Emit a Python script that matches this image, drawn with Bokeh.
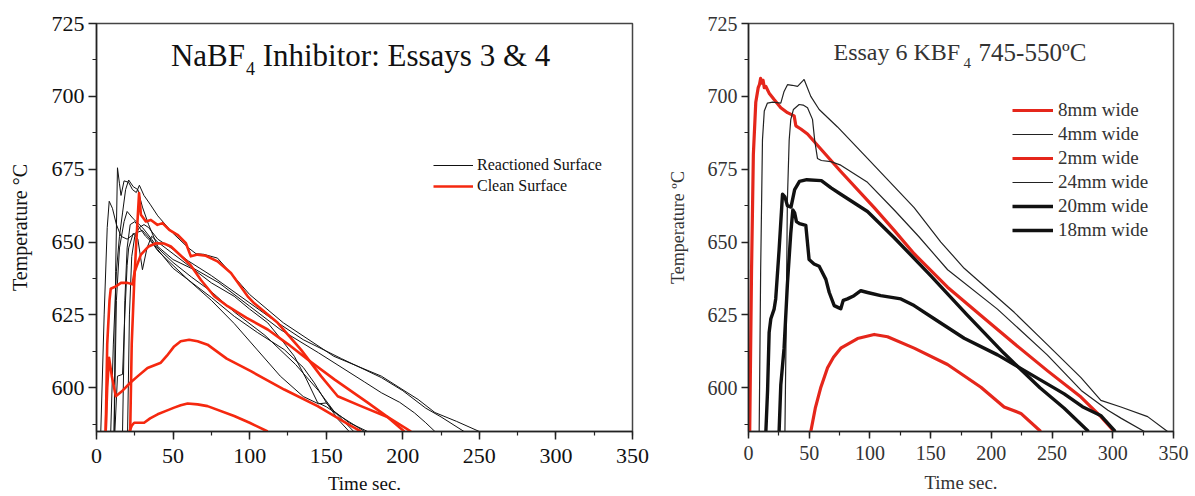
from bokeh.plotting import figure
from bokeh.layouts import row
from bokeh.models import Range1d, SingleIntervalTicker, Label, Legend, LegendItem
from bokeh.embed import file_html
from bokeh.resources import INLINE

# ---------------- LEFT PANEL DATA (NaBF4, Essays 3 & 4) ----------------
# Reactioned surface (black, thin)
k1_x = [11.5, 12.5, 13.7, 15, 16, 18, 21, 23.5, 26, 28, 31, 35, 40, 50, 60, 65, 70, 79, 90, 100, 122, 155, 186, 210, 221, 235, 250]
k1_y = [585, 640, 675.5, 670, 666, 671, 670.5, 668, 667, 669.5, 666, 663, 659, 653, 648, 646, 645.8, 644.5, 638, 632, 622.3, 610.8, 604, 596, 591.5, 588.5, 585]
k2_x = [2.8, 5, 7, 8.3, 10.4, 13, 16, 20, 25, 30, 35, 40, 50, 60, 75, 90, 105, 122.6, 135, 142.2, 150, 158, 165]
k2_y = [585, 625, 655, 664, 661.6, 656, 652, 651, 653, 654, 651, 647.4, 641, 637, 631, 624.5, 619, 613.1, 607, 601.7, 595, 589, 585]
k3_x = [9.3, 11, 13, 15, 17, 19, 21, 24, 27, 30, 34, 40, 50, 63.8, 75, 89.9, 100, 111.8, 120, 129.2, 137, 144.4, 150, 160, 175]
k3_y = [585, 615, 640, 652, 660, 668, 671.3, 669, 668, 662, 656, 648.5, 644, 640.5, 636, 631.4, 627, 622.3, 617, 610.8, 603, 594.9, 593.5, 590, 585]
k4_x = [17, 18.5, 20, 22, 25, 28, 32, 36, 40, 50, 60, 75, 90, 105, 120, 135, 145, 150, 155, 165, 177]
k4_y = [585, 630, 648, 656, 657, 655, 652, 650, 647, 642, 637, 630, 622, 613, 604, 597, 594.5, 594.8, 592, 588, 585]
k5_x = [12, 13.7, 17, 18.5, 20, 21, 24, 27, 30, 33, 36, 40, 50, 60, 80, 100, 120, 145, 175, 186, 198, 207.6, 215, 221]
k5_y = [585, 604, 604.6, 625, 642, 648, 653, 651, 640.5, 648, 652, 650, 646, 642, 636, 628, 620, 612, 602, 598.3, 595, 591.4, 588, 585]
k6_x = [20.3, 21.5, 23, 25, 28, 31, 34, 40, 50, 60, 75, 95, 115, 135, 160, 186, 200, 215, 225, 240]
k6_y = [585, 625, 645, 652, 655, 656, 655, 651, 647.5, 643.5, 638.5, 631, 623.5, 616.5, 610, 603.5, 599, 593, 590, 585]
k7_x = [11.5, 13, 15, 18, 20, 24, 30, 36, 40, 50, 62, 75, 90, 110, 130, 145, 155, 168]
k7_y = [585, 630, 648, 657, 660.5, 658, 655, 651, 648, 643, 638, 633, 626, 618, 608, 599, 592, 585]

# Clean surface (red, thick)
ra_x = [22, 23, 24.6, 26, 27.8, 29, 32.2, 35.5, 39.8, 43.1, 47.5, 52.9, 58.4, 61.6, 66, 71.4, 79, 87.8, 98.7, 103, 118.3, 133.5, 146.6, 157.5, 172.7, 190, 205.4]
ra_y = [585, 615, 636, 650, 666.8, 659.4, 657.1, 657.6, 655.9, 656.5, 654.2, 652.5, 649.6, 645.1, 645.7, 645.3, 643.4, 639.4, 631.4, 629, 622.3, 613.1, 604, 597.1, 593.7, 590, 585]
rb_x = [6, 7, 8.5, 9.3, 12.6, 16, 20.3, 23.5, 25, 29, 34, 38.8, 44, 48.6, 55.1, 61.6, 68.2, 76.9, 85.6, 98, 111.8, 125, 137.9, 155.3, 177.1, 190, 201]
rb_y = [585, 615, 630, 634, 634.8, 636, 636, 635.5, 640, 645.7, 648.5, 649.6, 649.5, 648.5, 645.3, 642, 637, 631.4, 628, 624, 620, 615, 609.7, 602.9, 594.9, 590, 585]
rc_x = [6, 7, 8.2, 10, 12.6, 17, 22.4, 27, 33.3, 42, 46, 50.7, 55, 60.5, 66, 72.5, 85, 100.8, 122.6, 144.4, 166.2, 172.7]
rc_y = [585, 600, 610.3, 604, 597.1, 599, 601.9, 604, 606.8, 608.6, 611, 614.2, 616, 616.5, 616, 614.8, 610, 605.7, 599.4, 593.7, 586.9, 585]
rd_x = [21.5, 23, 24.6, 31.1, 35, 39.9, 45, 50.7, 55, 59.5, 66, 72.5, 89.9, 100, 111.8]
rd_y = [585, 587, 588, 588, 589.5, 590.9, 592, 593.2, 594, 594.6, 594.3, 593.7, 590.3, 588, 585]

left_black = [(k1_x, k1_y), (k2_x, k2_y), (k3_x, k3_y), (k4_x, k4_y), (k5_x, k5_y), (k6_x, k6_y), (k7_x, k7_y)]
left_red = [(ra_x, ra_y), (rb_x, rb_y), (rc_x, rc_y), (rd_x, rd_y)]
left_legend_labels = ["Reactioned Surface", "Clean Surface"]

# ---------------- RIGHT PANEL DATA (Essay 6 KBF4) ----------------
w8_x = [1, 2.5, 4, 6, 8, 9, 10, 11, 12, 13, 14.3, 17, 21.1, 26.6, 32.1, 37.6, 39, 43.1, 48.6, 56.8, 76, 103.5, 120, 136.4, 163.9, 191.4, 218.8, 246.3, 273.8, 290.2, 301.2]
w8_y = [585, 640, 680, 698, 703, 704, 706.2, 704.5, 705.5, 703, 703.4, 701.1, 698.9, 696.1, 694.4, 693.3, 689.9, 688.8, 687.1, 683.2, 674.2, 661.8, 654, 646, 634.5, 624.8, 615.2, 605.8, 596.8, 590.1, 585]
w4_x = [8.8, 10, 11.5, 13, 15.6, 20, 26.6, 29.3, 32.1, 36, 40.4, 44.5, 45.8, 51.3, 58.2, 73.3, 98, 136.4, 158.4, 177.6, 218.8, 246.3, 273.8, 290.2, 306.7, 328.7, 345.1]
w4_y = [585, 640, 685, 695, 697.7, 698, 697.7, 701.7, 704, 703.8, 703.4, 705.2, 705.8, 700, 695.5, 689.5, 678.7, 661.8, 650, 641, 625.9, 614.7, 603.5, 595.7, 593.4, 590.1, 585]
w2_x = [51.3, 55, 59.6, 65.1, 70, 76, 89.8, 103.5, 114.5, 136.4, 163.9, 191.4, 210.5, 224.3, 240.7]
w2_y = [585, 593, 600.2, 606.9, 610.5, 613.6, 616.9, 618.3, 617.5, 613.6, 608, 600.2, 593.4, 591.2, 585]
w24_x = [30, 31, 32, 33.5, 34.8, 37, 41.7, 45, 48.6, 52.7, 54.5, 56.8, 60, 67.8, 76, 98, 120, 140, 164, 205, 246, 274, 296, 307, 326]
w24_y = [585, 620, 664, 685, 692, 695.5, 697.2, 697, 696.1, 692.1, 685, 678.7, 678, 677.6, 676.4, 670.5, 661, 652, 640.5, 627, 611.3, 599.1, 592.3, 589.5, 585]
w20_x = [14.3, 15.7, 17, 18.4, 21.1, 22.4, 25.2, 28, 30, 32, 35, 38, 42, 48, 60, 68, 76, 98, 120, 150, 180, 210, 240, 260, 280]
w20_y = [585, 599, 619, 623.7, 627, 630.5, 647.3, 666.4, 665.5, 662.5, 662, 668, 670.8, 671.4, 671.1, 668.6, 666.4, 660.5, 651.5, 638.5, 625, 612, 600, 593, 585]
w18_x = [25.2, 26.6, 29.3, 32.1, 34.8, 36.5, 38, 39.5, 42, 47.2, 49.9, 54, 58.2, 63.7, 66.5, 70.6, 74, 76, 78, 81.5, 86.9, 92.5, 98, 108.9, 125.5, 136.4, 152.9, 177.6, 205.1, 232.6, 260, 275, 290, 302]
w18_y = [585, 601, 613.6, 636, 653, 661, 660, 657, 656.3, 655.7, 644, 642.5, 641.7, 637.2, 632.7, 628.2, 627.5, 627.1, 630, 630.5, 631.6, 633.3, 632.7, 631.6, 630.5, 628.2, 623.7, 617, 611.3, 604.6, 597.9, 593.5, 590.5, 585]
right_labels = ["8mm wide", "4mm wide", "2mm wide", "24mm wide", "20mm wide", "18mm wide"]

x_range = (0, 350)
y_range = (585, 725)

SERIF = "Liberation Serif"
RED_L = "#f5280f"
RED_R = "#e5261b"


def style(p, tick_font, tick_color, tick_len, label_standoff):
    p.x_range = Range1d(*x_range)
    p.y_range = Range1d(*y_range)
    p.xaxis.ticker = SingleIntervalTicker(interval=50, num_minor_ticks=2)
    p.yaxis.ticker = SingleIntervalTicker(interval=25, num_minor_ticks=2)
    p.xgrid.visible = False
    p.ygrid.visible = False
    for ax in (p.xaxis, p.yaxis):
        ax.axis_line_width = 1.5
        ax.axis_line_color = "#222"
        ax.major_tick_line_width = 1.5
        ax.major_tick_line_color = "#222"
        ax.minor_tick_line_color = "#222"
        ax.minor_tick_line_width = 1.2
        ax.major_tick_out = tick_len
        ax.major_tick_in = 0
        ax.minor_tick_out = 4
        ax.minor_tick_in = 0
        ax.major_label_text_font = SERIF
        ax.major_label_text_font_size = tick_font
        ax.major_label_text_color = tick_color
        ax.axis_label_text_font = SERIF
        ax.axis_label_text_font_style = "normal"
        ax.axis_label_text_color = tick_color
    p.xaxis.major_label_standoff = label_standoff
    p.yaxis.major_label_standoff = 4
    p.outline_line_color = "#444"
    p.outline_line_width = 1.5
    p.background_fill_color = "white"
    p.border_fill_color = "white"


# ---------------- LEFT FIGURE ----------------
p1 = figure(width=660, height=496, output_backend="svg", toolbar_location=None,
            min_border_left=96, min_border_right=28, min_border_top=23, min_border_bottom=63)
style(p1, "22px", "#111", 8, 9)
p1.xaxis.axis_label = "Time sec."
p1.yaxis.axis_label = "Temperature °C"
p1.xaxis.axis_label_text_font_size = "19px"
p1.yaxis.axis_label_text_font_size = "20px"
p1.xaxis.axis_label_standoff = 7
p1.yaxis.axis_label_standoff = 18

black_rs = []
for xs, ys in left_black:
    black_rs.append(p1.line(xs, ys, line_color="#111", line_width=1.0))
red_rs = []
for xs, ys in left_red:
    red_rs.append(p1.line(xs, ys, line_color=RED_L, line_width=2.6, line_join="round"))

leg1 = Legend(items=[LegendItem(label=left_legend_labels[0], renderers=[black_rs[0]]),
                     LegendItem(label=left_legend_labels[1], renderers=[red_rs[0]])],
              location=(337, 236), border_line_color=None, background_fill_alpha=0,
              label_text_font=SERIF, label_text_font_size="16px", label_text_color="#111",
              glyph_width=40, glyph_height=18, label_height=18, label_standoff=4,
              spacing=3, padding=0, margin=0)
p1.add_layout(leg1)

p1.add_layout(Label(x=48.6, y=714.1, text="NaBF", text_font=SERIF, text_font_size="31px",
                    text_baseline="alphabetic", text_color="#111"))
p1.add_layout(Label(x=97.6, y=709.6, text="4", text_font=SERIF, text_font_size="18px",
                    text_baseline="alphabetic", text_color="#111"))
p1.add_layout(Label(x=108.5, y=714.1, text="Inhibitor: Essays 3 & 4", text_font=SERIF,
                    text_font_size="31px", text_baseline="alphabetic", text_color="#111"))

# ---------------- RIGHT FIGURE ----------------
p2 = figure(width=534, height=496, output_backend="svg", toolbar_location=None,
            min_border_left=88, min_border_right=21, min_border_top=19, min_border_bottom=63)
style(p2, "20px", "#333", 7, 7)
p2.xaxis.axis_label = "Time sec."
p2.yaxis.axis_label = "Temperature ºC"
p2.xaxis.axis_label_text_font_size = "19px"
p2.yaxis.axis_label_text_font_size = "18px"
p2.xaxis.axis_label_standoff = 9
p2.yaxis.axis_label_standoff = 17

r8 = p2.line(w8_x, w8_y, line_color=RED_R, line_width=3.2, line_join="round")
r4 = p2.line(w4_x, w4_y, line_color="#222", line_width=1.2)
r2 = p2.line(w2_x, w2_y, line_color=RED_R, line_width=3.2, line_join="round")
r24 = p2.line(w24_x, w24_y, line_color="#222", line_width=1.2)
r20 = p2.line(w20_x, w20_y, line_color="#111", line_width=3.4, line_join="round")
r18 = p2.line(w18_x, w18_y, line_color="#111", line_width=3.4, line_join="round")

leg2 = Legend(items=[LegendItem(label=lab, renderers=[r]) for lab, r in
                     zip(right_labels, [r8, r4, r2, r24, r20, r18])],
              location=(264, 190), border_line_color=None, background_fill_alpha=0,
              label_text_font=SERIF, label_text_font_size="19px", label_text_color="#333",
              glyph_width=41, glyph_height=20, label_height=20, label_standoff=5,
              spacing=2, padding=0, margin=0)
p2.add_layout(leg2)

p2.add_layout(Label(x=70, y=715.2, text="Essay 6 KBF", text_font=SERIF, text_font_size="24px",
                    text_baseline="alphabetic", text_color="#333"))
p2.add_layout(Label(x=177.1, y=711.6, text="4", text_font=SERIF, text_font_size="15px",
                    text_baseline="alphabetic", text_color="#333"))
p2.add_layout(Label(x=189.5, y=715.2, text="745-550ºC", text_font=SERIF, text_font_size="25px",
                    text_baseline="alphabetic", text_color="#333"))

layout = row(p1, p2, spacing=0)
open("out.html", "w").write(file_html(layout, INLINE))
